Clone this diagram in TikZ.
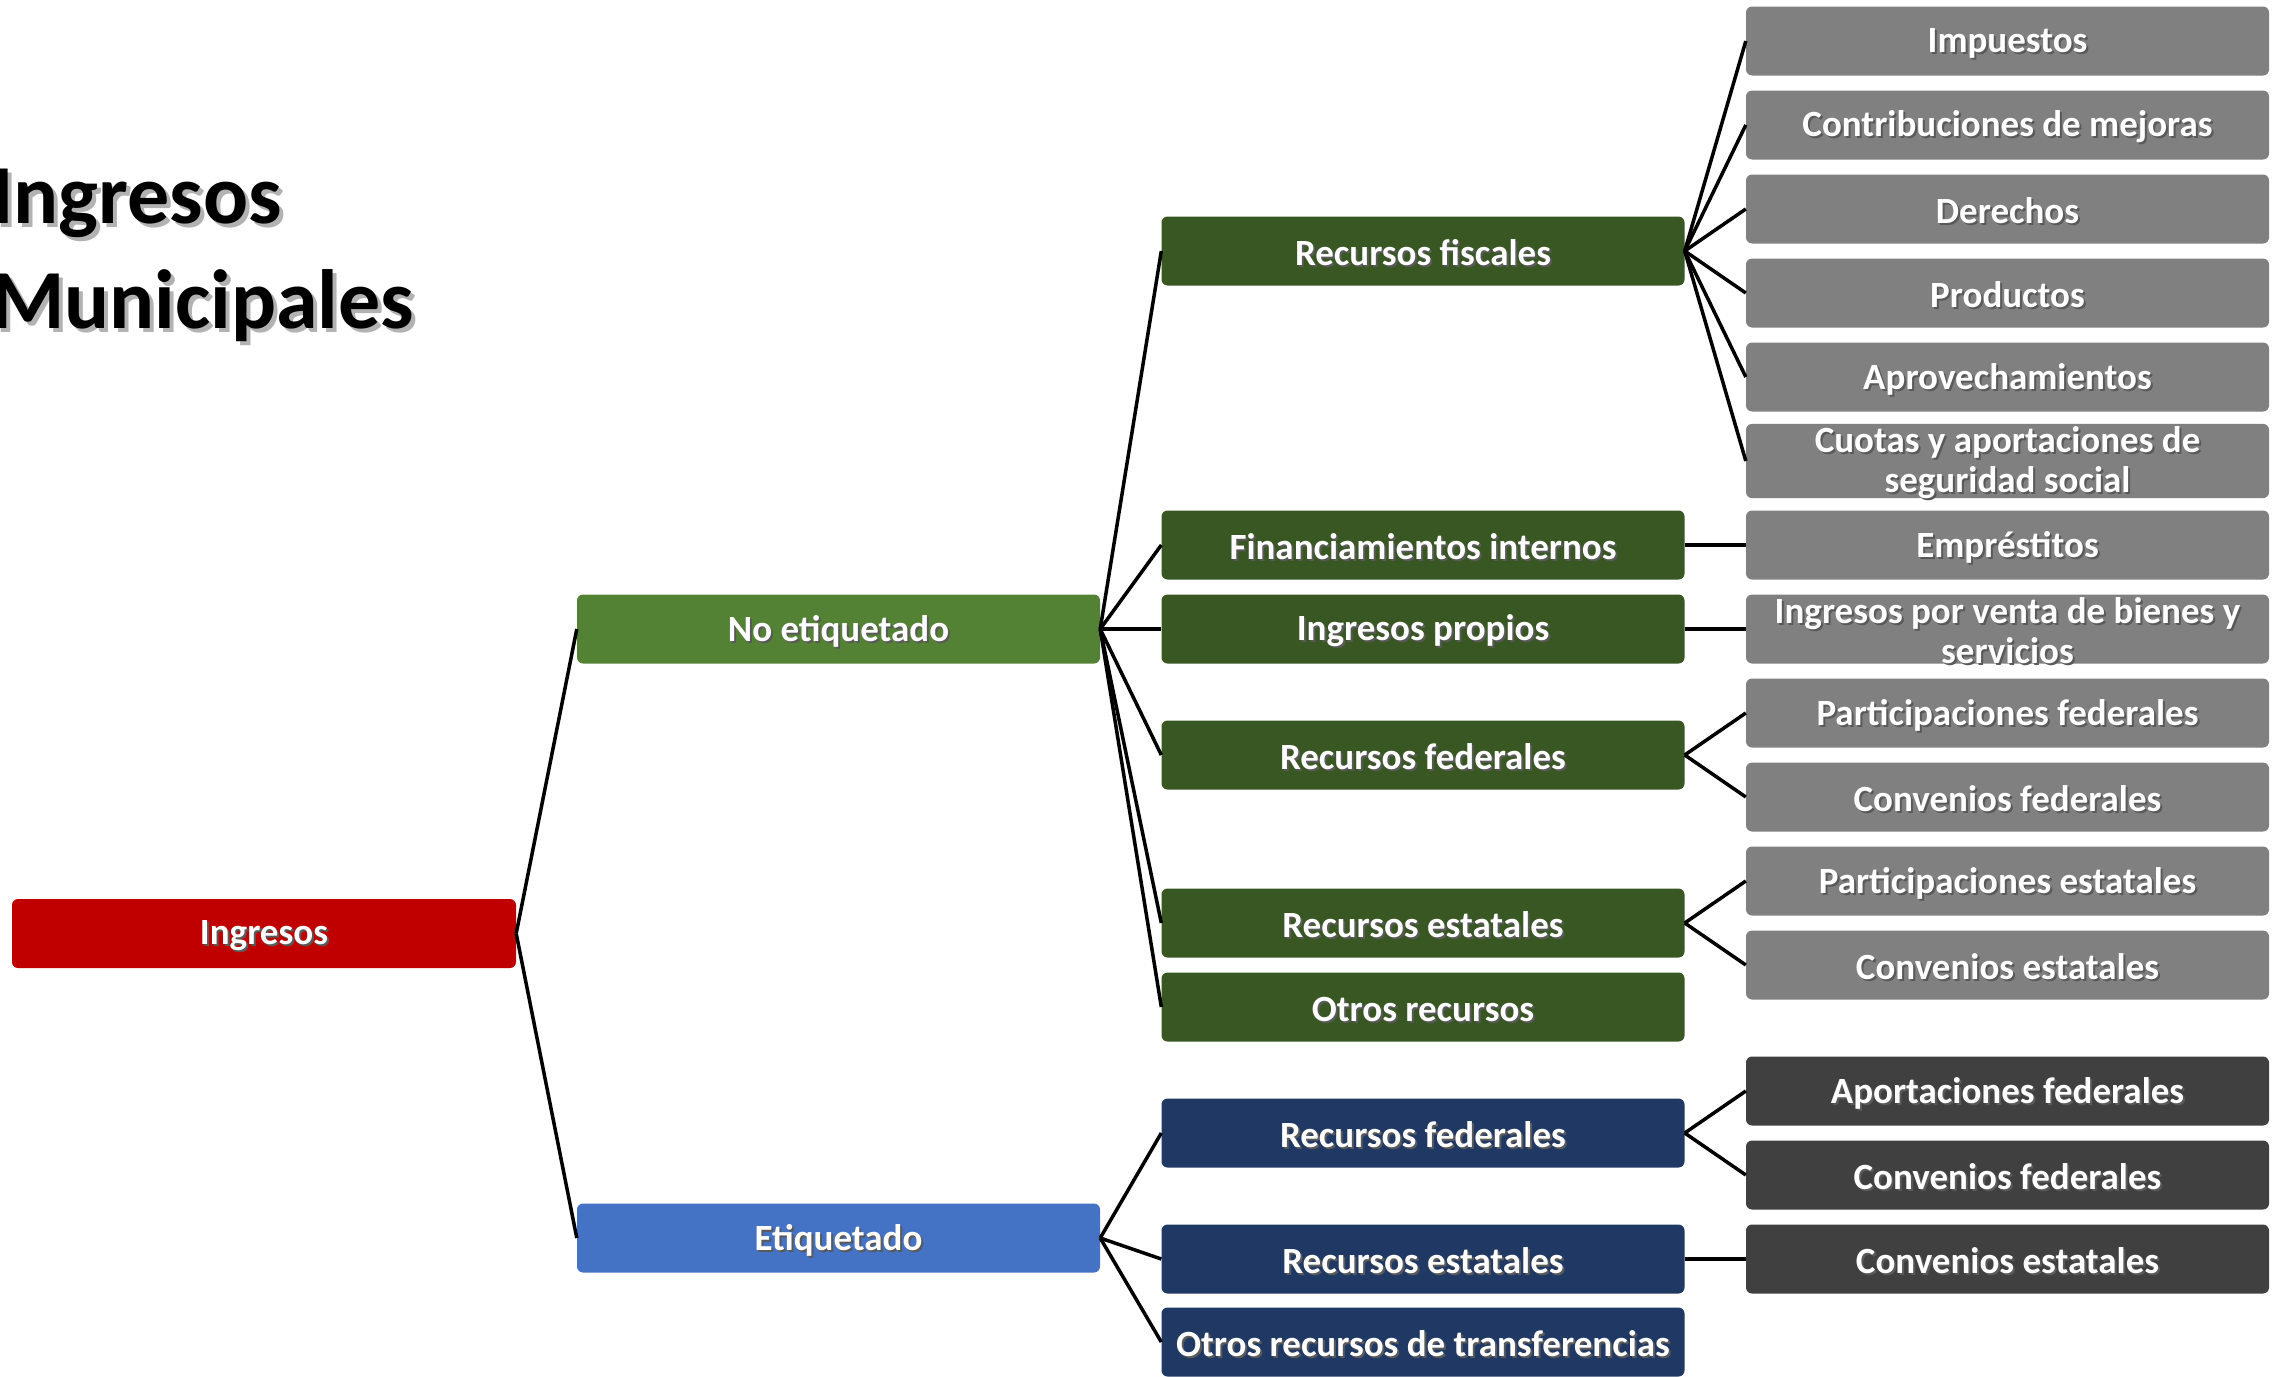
\documentclass[tikz,border=0pt]{standalone}
\usepackage{fontspec}
\setmainfont{Carlito}
\definecolor{cred}{HTML}{C00000}
\definecolor{cgreenA}{HTML}{548235}
\definecolor{cgreenB}{HTML}{385723}
\definecolor{cblueA}{HTML}{4472C4}
\definecolor{cblueB}{HTML}{203864}
\definecolor{cgrayA}{HTML}{808080}
\definecolor{cgrayB}{HTML}{404040}
\newcommand\shtxt[1]{\raisebox{-3pt}[\height][\depth]{\rlap{\kern2pt\raisebox{-2pt}{\textcolor{black!65}{#1}}}#1}}
\newcommand\shtitle[1]{\leavevmode\rlap{\kern4pt\raisebox{-4pt}{\textcolor{black!30}{#1}}}#1}
\tikzset{
  box/.style={rectangle, rounded corners=6pt, minimum width=523pt, minimum height=69pt,
    inner sep=0pt, text=white, align=center,
    font=\fontsize{37}{40}\selectfont\bfseries},
  conn/.style={draw=black, line width=3.5pt},
}
\begin{document}
\begin{tikzpicture}[x=1pt,y=-1pt]
\useasboundingbox (0,0) rectangle (2285,1376);
\clip (0,0) rectangle (2285,1376);
% title
\node[anchor=base west, inner sep=0pt, align=left, font=\fontsize{84}{105}\selectfont\bfseries] (title) at (-9,328)
  {\shtitle{Ingresos}\\\shtitle{Municipales}};
% level 0
\node[box, fill=cred, minimum width=504pt] (ing) at (264,933.5) {\shtxt{Ingresos}};
% level 1
\node[box, fill=cgreenA] (noe) at (838.5,629) {\shtxt{No etiquetado}};
\node[box, fill=cblueA] (eti) at (838.5,1238) {\shtxt{Etiquetado}};
% level 2
\node[box, fill=cgreenB] (rfis) at (1423,251) {\shtxt{Recursos fiscales}};
\node[box, fill=cgreenB] (fin) at (1423,545) {\shtxt{Financiamientos internos}};
\node[box, fill=cgreenB] (ipr) at (1423,629) {\shtxt{Ingresos propios}};
\node[box, fill=cgreenB] (rfed) at (1423,755) {\shtxt{Recursos federales}};
\node[box, fill=cgreenB] (rest) at (1423,923) {\shtxt{Recursos estatales}};
\node[box, fill=cgreenB] (otr) at (1423,1007) {\shtxt{Otros recursos}};
\node[box, fill=cblueB] (rfedb) at (1423,1133) {\shtxt{Recursos federales}};
\node[box, fill=cblueB] (restb) at (1423,1259) {\shtxt{Recursos estatales}};
\node[box, fill=cblueB] (otrt) at (1423,1342) {\shtxt{Otros recursos de transferencias}};
% level 3
\node[box, fill=cgrayA] (imp) at (2007.5,41) {\shtxt{Impuestos}};
\node[box, fill=cgrayA] (con) at (2007.5,125) {\shtxt{Contribuciones de mejoras}};
\node[box, fill=cgrayA] (der) at (2007.5,209) {\shtxt{Derechos}};
\node[box, fill=cgrayA] (pro) at (2007.5,293) {\shtxt{Productos}};
\node[box, fill=cgrayA] (apr) at (2007.5,377) {\shtxt{Aprovechamientos}};
\node[box, fill=cgrayA] (cuo) at (2007.5,461) {\shtxt{Cuotas y aportaciones de}\\\shtxt{seguridad social}};
\node[box, fill=cgrayA] (emp) at (2007.5,545) {\shtxt{Empréstitos}};
\node[box, fill=cgrayA] (ven) at (2007.5,629) {\shtxt{Ingresos por venta de bienes y}\\\shtxt{servicios}};
\node[box, fill=cgrayA] (pfed) at (2007.5,713) {\shtxt{Participaciones federales}};
\node[box, fill=cgrayA] (cfed) at (2007.5,797) {\shtxt{Convenios federales}};
\node[box, fill=cgrayA] (pest) at (2007.5,881) {\shtxt{Participaciones estatales}};
\node[box, fill=cgrayA] (cest) at (2007.5,965) {\shtxt{Convenios estatales}};
\node[box, fill=cgrayB] (afed) at (2007.5,1091) {\shtxt{Aportaciones federales}};
\node[box, fill=cgrayB] (cfedb) at (2007.5,1175) {\shtxt{Convenios federales}};
\node[box, fill=cgrayB] (cestb) at (2007.5,1259) {\shtxt{Convenios estatales}};
% connectors
\foreach \c in {noe,eti} \draw[conn] (ing.east) -- (\c.west);
\foreach \c in {rfis,fin,ipr,rfed,rest,otr} \draw[conn] (noe.east) -- (\c.west);
\foreach \c in {rfedb,restb,otrt} \draw[conn] (eti.east) -- (\c.west);
\foreach \c in {imp,con,der,pro,apr,cuo} \draw[conn] (rfis.east) -- (\c.west);
\draw[conn] (fin.east) -- (emp.west);
\draw[conn] (ipr.east) -- (ven.west);
\foreach \c in {pfed,cfed} \draw[conn] (rfed.east) -- (\c.west);
\foreach \c in {pest,cest} \draw[conn] (rest.east) -- (\c.west);
\foreach \c in {afed,cfedb} \draw[conn] (rfedb.east) -- (\c.west);
\draw[conn] (restb.east) -- (cestb.west);
\end{tikzpicture}
\end{document}
